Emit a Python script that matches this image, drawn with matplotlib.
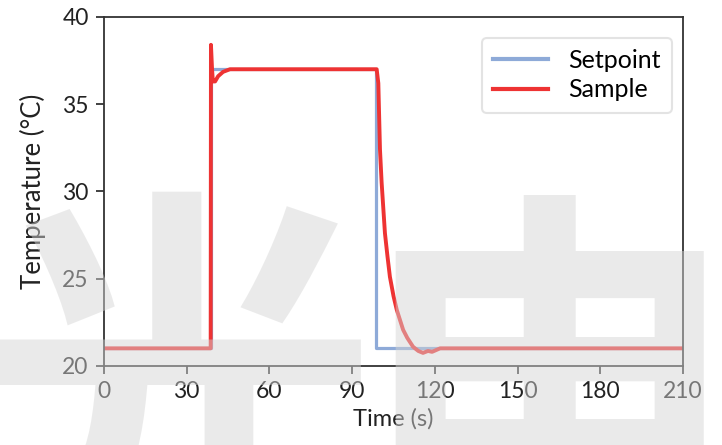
import matplotlib
matplotlib.use("Agg")
import matplotlib.pyplot as plt

# data
setpoint_t = [0, 38.8, 38.8, 98.8, 98.8, 210]
setpoint_T = [21, 21, 37, 37, 21, 21]

sample_t = [0, 38.7, 38.8, 39.2, 39.5, 40.3, 41.4, 43.2, 45.7, 98.9, 99.5, 100.1,
            100.7, 101.9, 102.8, 103.7, 105.0, 106.2, 108.5, 110.0, 112.1, 114.0,
            115.7, 117.5, 119.0, 121.9, 210]
sample_T = [21, 21, 38.4, 37.0, 36.3, 36.3, 36.6, 36.85, 37.0, 37.0, 36.2, 32.4,
            30.5, 27.6, 26.3, 25.1, 24.0, 23.2, 22.06, 21.6, 21.09, 20.85,
            20.74, 20.85, 20.8, 21.0, 21.0]

x_ticks = [0, 30, 60, 90, 120, 150, 180, 210]
y_ticks = [20, 25, 30, 35, 40]

plt.rcParams['font.family'] = ['Lato', 'DejaVu Sans']

fig = plt.figure(figsize=(7.22, 4.45), dpi=100)
ax = fig.add_axes([0.144, 0.178, 0.802, 0.784])

ax.plot(setpoint_t, setpoint_T, color='#8eaad8', lw=2.3, label='Setpoint')
ax.plot(sample_t, sample_T, color='#ee3333', lw=2.8, label='Sample')

ax.set_xlim(0, 210)
ax.set_ylim(20, 40)
ax.set_xticks(x_ticks)
ax.set_yticks(y_ticks)
ax.tick_params(labelsize=16.5, length=6, width=1.3, color='#333333',
               labelcolor='#222222', pad=5)
for s in ax.spines.values():
    s.set_color('#333333')
    s.set_linewidth(1.3)

ax.set_xlabel('Time (s)', fontsize=17, color='#222222', labelpad=4)
ax.set_ylabel('Temperature (°C)', fontsize=18.5, color='#222222', labelpad=12)

leg = ax.legend(loc='upper right', fontsize=18, handlelength=2.2,
                borderpad=0.45, labelspacing=0.25, fancybox=True,
                borderaxespad=0, bbox_to_anchor=(0.981, 0.94))
leg.get_frame().set_edgecolor('#dddddd')
leg.get_frame().set_linewidth(1.5)
for h in leg.legend_handles:
    h.set_linewidth(3)

# watermark
wm = dict(fontsize=290, fontweight='bold', color='#d5d5d5', alpha=0.48,
          family=['Noto Sans CJK SC'], ha='center', va='baseline', zorder=10)
fig.text(178 / 722, -0.20, '光', **wm)
fig.text(552 / 722, -0.20, '电', **wm)

fig.savefig('out.png', dpi=100)
